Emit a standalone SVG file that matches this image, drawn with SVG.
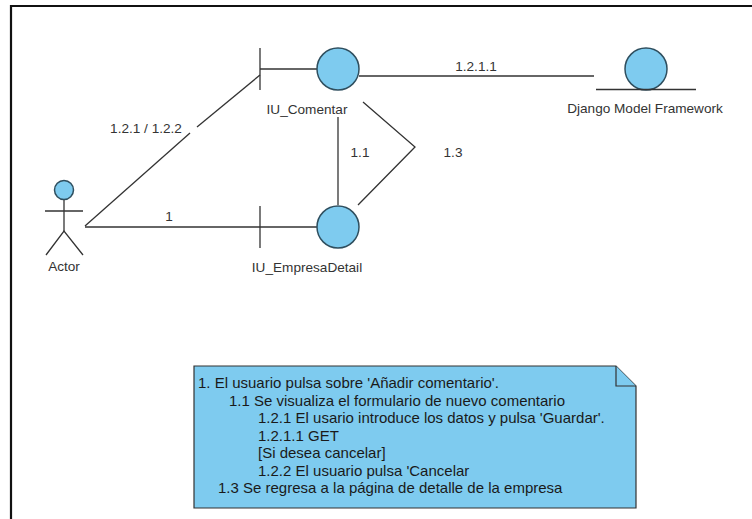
<svg xmlns="http://www.w3.org/2000/svg" width="752" height="519" viewBox="0 0 752 519">
  <style>
    .line { stroke: #333; stroke-width: 1.3; fill: none; }
    .obj { fill: #7ecbef; stroke: #2f4f5f; stroke-width: 1.5; }
    .lbl { font-family: "Liberation Sans", Arial, sans-serif; font-size: 13.6px; fill: #333; }
    .note { fill: #7ecbef; stroke: #333; stroke-width: 1.2; }
    .ntxt { font-family: "Liberation Sans", Arial, sans-serif; font-size: 15px; fill: #1a1a1a; }
  </style>
  <rect width="752" height="519" fill="#fff"/>
  <!-- diagram frame -->
  <path d="M11 519 V6 H752" fill="none" stroke="#111" stroke-width="2.2"/>

  <g id="connectors">
    <!-- Actor to IU_EmpresaDetail -->
    <line class="line" x1="85" y1="227" x2="317" y2="227"/>
    <text class="lbl" x="169" y="221" text-anchor="middle">1</text>
    <!-- Actor to IU_Comentar -->
    <line class="line" x1="85" y1="226" x2="190" y2="133"/>
    <line class="line" x1="197" y1="127" x2="260" y2="75"/>
    <text class="lbl" x="146" y="133" text-anchor="middle">1.2.1 / 1.2.2</text>
    <!-- IU_EmpresaDetail to IU_Comentar -->
    <line class="line" x1="338" y1="117" x2="338" y2="205"/>
    <text class="lbl" x="360" y="157" text-anchor="middle">1.1</text>
    <!-- IU_Comentar back to IU_EmpresaDetail -->
    <polyline class="line" points="363,102 415,147 358,205"/>
    <text class="lbl" x="453" y="157" text-anchor="middle">1.3</text>
    <!-- IU_Comentar to Django Model Framework -->
    <line class="line" x1="359" y1="76" x2="594" y2="76"/>
    <text class="lbl" x="476" y="71" text-anchor="middle">1.2.1.1</text>
  </g>

  <g id="actor">
    <circle class="obj" cx="64" cy="190" r="9.5"/>
    <line class="line" x1="45" y1="211" x2="83" y2="211"/>
    <line class="line" x1="64" y1="200" x2="64" y2="231"/>
    <polyline class="line" points="46,255 64,231 83,255"/>
    <text class="lbl" x="64" y="271" text-anchor="middle">Actor</text>
  </g>

  <g id="iu-comentar">
    <line class="line" x1="260" y1="48" x2="260" y2="90"/>
    <line class="line" x1="260" y1="69" x2="317" y2="69"/>
    <circle class="obj" cx="338" cy="69" r="21"/>
    <text class="lbl" x="307" y="114" text-anchor="middle">IU_Comentar</text>
  </g>

  <g id="iu-empresa-detail">
    <line class="line" x1="260" y1="206" x2="260" y2="248"/>
    <circle class="obj" cx="338" cy="227" r="21"/>
    <text class="lbl" x="307" y="272" text-anchor="middle">IU_EmpresaDetail</text>
  </g>

  <g id="django-model-framework">
    <circle class="obj" cx="646" cy="69" r="21"/>
    <line class="line" x1="596" y1="89.5" x2="696" y2="89.5"/>
    <text class="lbl" x="645" y="113" text-anchor="middle">Django Model Framework</text>
  </g>

  <g id="note">
    <path class="note" d="M194 366 H616 L636 386 V508 H194 Z"/>
    <path class="note" d="M616 366 V386 H636" fill="#fff"/>
    <text class="ntxt" x="198" y="388">1. El usuario pulsa sobre 'Añadir comentario'.</text>
    <text class="ntxt" x="229" y="405.5">1.1 Se visualiza el formulario de nuevo comentario</text>
    <text class="ntxt" x="258" y="423">1.2.1 El usario introduce los datos y pulsa 'Guardar'.</text>
    <text class="ntxt" x="258" y="440.5">1.2.1.1 GET</text>
    <text class="ntxt" x="258" y="458">[Si desea cancelar]</text>
    <text class="ntxt" x="258" y="475.5">1.2.2 El usuario pulsa 'Cancelar</text>
    <text class="ntxt" x="218" y="493">1.3 Se regresa a la página de detalle de la empresa</text>
  </g>
</svg>
